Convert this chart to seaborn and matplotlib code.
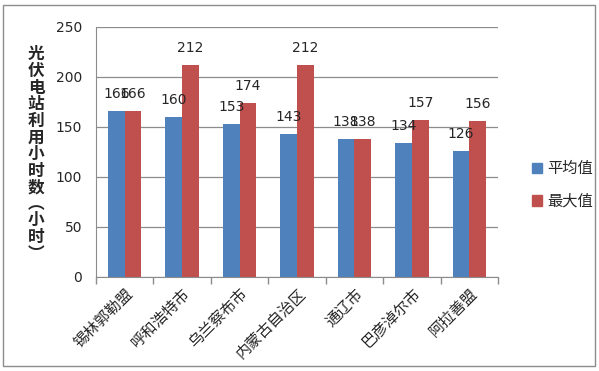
"""Photovoltaic station utilisation hours by region (Inner Mongolia)."""

import matplotlib

matplotlib.use("Agg")

import matplotlib.pyplot as plt
import pandas as pd
import seaborn as sns
from matplotlib.patches import Rectangle

REGIONS = ["锡林郭勒盟", "呼和浩特市", "乌兰察布市", "内蒙古自治区", "通辽市", "巴彦淖尔市", "阿拉善盟"]
AVG_HOURS = [166, 160, 153, 143, 138, 134, 126]
MAX_HOURS = [166, 212, 174, 212, 138, 157, 156]
SERIES = ["平均值", "最大值"]
COLORS = ["#4F81BD", "#C0504D"]

sns.set_style("white")
plt.rcParams["font.family"] = ["Noto Sans CJK SC", "DejaVu Sans"]

df = pd.DataFrame({
    "region": REGIONS * 2,
    "series": [SERIES[0]] * len(REGIONS) + [SERIES[1]] * len(REGIONS),
    "hours": AVG_HOURS + MAX_HOURS,
})

fig = plt.figure(figsize=(5.99, 3.71), dpi=100)
ax = fig.add_axes([96 / 599, 1 - 277 / 371, 402 / 599, 250 / 371])

sns.barplot(
    data=df, x="region", y="hours", hue="series",
    palette=COLORS, width=0.58, saturation=1, linewidth=0, ax=ax, legend=False,
)

for container in ax.containers:
    ax.bar_label(container, fmt="%d", padding=7, fontsize=10, family="DejaVu Sans")

ax.set_ylim(0, 250)
ax.set_yticks(range(0, 251, 50))
ax.set_xlim(-0.5, len(REGIONS) - 0.5)
ax.yaxis.grid(True, color="#8c8c8c", linewidth=0.9)
ax.set_axisbelow(True)
for side in ["top", "right"]:
    ax.spines[side].set_visible(False)
ax.spines["left"].set_color("#8c8c8c")
ax.spines["bottom"].set_color("#8c8c8c")

ax.tick_params(axis="y", labelsize=10, length=0, pad=10)
ax.set_yticklabels([str(v) for v in range(0, 251, 50)], family="DejaVu Sans")
ax.set_xticks(range(len(REGIONS)))
ax.set_xticklabels(REGIONS, rotation=45, ha="right", rotation_mode="anchor", fontsize=11)
ax.tick_params(axis="x", which="major", length=0, pad=6)
# category separator ticks
ax.set_xticks([i - 0.5 for i in range(len(REGIONS) + 1)], minor=True)
ax.tick_params(axis="x", which="minor", bottom=True, length=5, width=1,
               color="#8c8c8c", direction="out")
ax.set_xlabel("")
ax.set_ylabel("")

ylabel = "光伏电站利用小时数︵小时︶"
fig.text(36 / 599, 1 - 154 / 371, "\n".join(ylabel), ha="center", va="center",
         fontsize=12, fontweight="bold", linespacing=0.9)

handles = [Rectangle((0, 0), 1, 1, color=c) for c in COLORS]
fig.legend(handles, SERIES, loc="center left", bbox_to_anchor=(518 / 599, 1 - 185 / 371),
           frameon=False, fontsize=11, handlelength=0.7, handleheight=0.7,
           handletextpad=0.3, labelspacing=1.0)

fig.patches.append(Rectangle((3 / 599, 5 / 371), 592 / 599, 361 / 371, transform=fig.transFigure,
                             fill=False, edgecolor="#8c8c8c", linewidth=1))

fig.savefig("out.png", dpi=100)
plt.close(fig)
